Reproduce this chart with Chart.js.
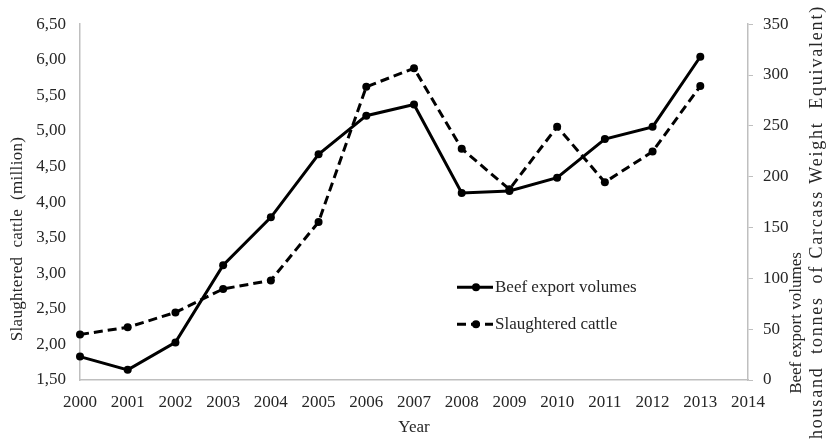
<!DOCTYPE html>
<html>
<head>
<meta charset="utf-8">
<script src="https://cdn.jsdelivr.net/npm/chart.js@4/dist/chart.umd.min.js"></script>
<style>
html, body { margin: 0; padding: 0; background: #fff; overflow: hidden; }
</style>
</head>
<body>
<canvas id="myChart" width="828" height="439"></canvas>
<script>
// years on the x axis (2014 has no data, only the label)
const years = ['2000','2001','2002','2003','2004','2005','2006','2007','2008','2009','2010','2011','2012','2013','2014'];

// thousand tonnes CWE, right axis
const beefExport = [23, 10, 37, 113, 160, 222, 260, 271, 184, 186, 199, 237, 249, 318];

// million head, left axis
const slaughtered = [2.14, 2.24, 2.45, 2.78, 2.90, 3.72, 5.62, 5.88, 4.75, 4.18, 5.06, 4.28, 4.71, 5.63];

const leftRange = { min: 1.5, max: 6.5, step: 0.5 };
const rightRange = { min: 0, max: 350, step: 50 };

const serif = '"Liberation Serif", "Times New Roman", serif';
const textColor = '#262626';
const axisColor = '#bfbfbf';

Chart.defaults.font.family = serif;
Chart.defaults.font.size = 17;
Chart.defaults.color = textColor;

// legend drawn inside the plot, like the excel original
const innerLegend = {
	id: 'innerLegend',
	afterDatasetsDraw(chart) {
		const ctx = chart.ctx;
		const area = chart.chartArea;
		const x0 = area.left + 377;
		chart.data.datasets.forEach((ds, i) => {
			const y = area.top + 263 + i * 37;
			ctx.save();
			ctx.strokeStyle = ds.borderColor;
			ctx.fillStyle = ds.borderColor;
			ctx.lineWidth = ds.borderWidth;
			ctx.setLineDash(ds.borderDash || []);
			ctx.beginPath();
			ctx.moveTo(x0, y);
			ctx.lineTo(x0 + 36, y);
			ctx.stroke();
			ctx.setLineDash([]);
			ctx.beginPath();
			ctx.arc(x0 + 19, y, ds.pointRadius, 0, Math.PI * 2);
			ctx.fill();
			ctx.fillStyle = textColor;
			ctx.font = '17px ' + serif;
			ctx.textBaseline = 'middle';
			ctx.fillText(ds.label, x0 + 38, y);
			ctx.restore();
		});
	}
};

// rotated text helper (reads bottom to top)
function upText(ctx, text, x, y, align, size, spacing) {
	ctx.save();
	ctx.fillStyle = textColor;
	ctx.font = size + 'px ' + serif;
	ctx.letterSpacing = spacing + 'px';
	ctx.textBaseline = 'middle';
	ctx.textAlign = align;
	ctx.translate(x, y);
	ctx.rotate(-Math.PI / 2);
	ctx.fillText(text, 0, 0);
	ctx.restore();
}

// both axis titles sit a bit off-centre in the original, so draw them by hand
const axisTitles = {
	id: 'axisTitles',
	afterDraw(chart) {
		const ctx = chart.ctx;
		const left = chart.scales.y;
		const right = chart.scales.y1;
		upText(ctx, 'Slaughtered  cattle  (million)', left.left + 18, 239, 'center', 17, 0.3);
		upText(ctx, 'Beef export volumes', right.right - 31, 323, 'center', 17, 0);
		upText(ctx, '(thousand  tonnes  of Carcass Weight  Equivalent)', right.right - 11, 5, 'right', 18, 1.8);
	}
};

const comma = v => v.toFixed(2).replace('.', ',');

const myChart = new Chart(document.getElementById('myChart'), {
	type: 'line',
	data: {
		labels: years,
		datasets: [{
			label: 'Beef export volumes',
			data: beefExport,
			yAxisID: 'y1',
			borderColor: '#000',
			backgroundColor: '#000',
			borderWidth: 3,
			pointRadius: 4,
			pointBackgroundColor: '#000',
			pointBorderWidth: 0,
			tension: 0
		}, {
			label: 'Slaughtered cattle',
			data: slaughtered,
			yAxisID: 'y',
			borderColor: '#000',
			backgroundColor: '#000',
			borderWidth: 3,
			borderDash: [9, 5],
			pointRadius: 4,
			pointBackgroundColor: '#000',
			pointBorderWidth: 0,
			tension: 0
		}]
	},
	options: {
		responsive: false,
		animation: false,
		layout: { padding: { top: 22, left: 0, right: 0, bottom: 0 } },
		plugins: {
			legend: { display: false },
			tooltip: { enabled: false }
		},
		scales: {
			x: {
				offset: false,
				grid: { display: false, drawTicks: false },
				border: { display: true, color: axisColor, width: 1.5 },
				ticks: { padding: 12, maxRotation: 0, autoSkip: false },
				title: { display: true, text: 'Year', padding: { top: 0, bottom: 1 } },
				afterFit: s => { s.height = 59; }
			},
			y: {
				position: 'left',
				min: leftRange.min,
				max: leftRange.max,
				grid: { display: false, drawTicks: false },
				border: { display: true, color: axisColor, width: 1.5 },
				ticks: { stepSize: leftRange.step, padding: 14, callback: v => comma(v) },
				afterFit: s => { s.width = 80; }
			},
			y1: {
				position: 'right',
				min: rightRange.min,
				max: rightRange.max,
				grid: { display: true, drawOnChartArea: false, drawTicks: true, tickLength: 5, color: axisColor },
				border: { display: true, color: axisColor, width: 1.5 },
				ticks: { stepSize: rightRange.step, padding: 10 },
				afterFit: s => { s.width = 80; }
			}
		}
	},
	plugins: [innerLegend, axisTitles]
});
</script>
</body>
</html>
